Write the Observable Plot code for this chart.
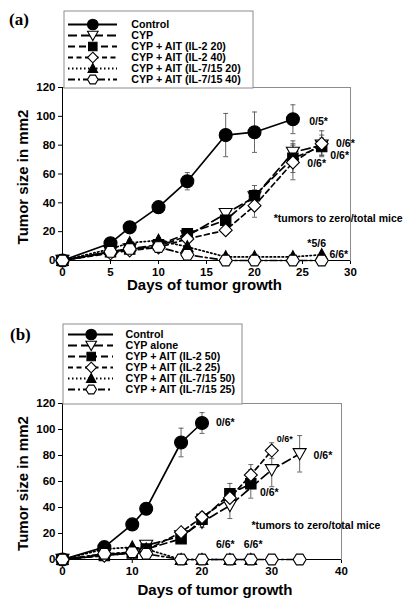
<!DOCTYPE html>
<html><head><meta charset="utf-8">
<script src="https://cdn.jsdelivr.net/npm/d3@7"></script>
<script src="https://cdn.jsdelivr.net/npm/@observablehq/plot@0.6"></script>
<style>
body{margin:0;background:#fff;}
#root{position:relative;width:410px;height:601px;overflow:hidden;font-family:"Liberation Sans",Arial,sans-serif;}
.abs{position:absolute;}
.tag{position:absolute;font-family:"Liberation Serif","DejaVu Serif",serif;font-weight:bold;font-size:17px;line-height:17px;}
</style></head><body><div id="root"></div>
<script>
// ---------- Panel (a) data ----------
const daysA = [0, 5, 7, 10, 13, 17, 20, 24, 27];
const namesA = ["Control", "CYP", "CYP + AIT (IL-2 20)", "CYP + AIT (IL-2 40)", "CYP + AIT (IL-7/15 20)", "CYP + AIT (IL-7/15 40)"];
const controlA = [0, 12, 23, 37, 55, 87, 89, 98, null];
const cypA = [0, 6, 8, 10, 17, 32.5, 44, 75, 80];
const il2_20A = [0, 6, 8, 11, 18.5, 28, 45, 71, 79];
const il2_40A = [0, 5, 7, 9, 15, 21, 38, 68, 81];
const il715_20A = [0, 8, 12.3, 13.9, 9.5, 2.5, 2.5, 2.5, 4];
const il715_40A = [0, 6, 8, 9.3, 4, 0, 0, 0, 0];
const controlErrA = [0, 1.5, 2, 3, 6, 15, 14, 10, null];
const cypErrA = [0, 1, 1, 1.5, 2, 3, 5, 8, 7];
const il2_20ErrA = [0, 1, 1, 1.5, 2, 3, 7, 10, 6];
const il2_40ErrA = [0, 1, 1, 1.5, 2, 3, 8, 12, 9];
const il715_20ErrA = [0, 1, 2, 2, 2, 0, 0, 0, 0];
const il715_40ErrA = [0, 1, 1, 1, 1, 0, 0, 0, 0];
const xTicksA = [0, 5, 10, 15, 20, 25, 30];
const notesA = ["0/5*", "0/6*", "0/6*", "0/6*", "*tumors to zero/total mice", "*5/6", "6/6*"];
const notesAx = [25.7, 28.5, 27.9, 25.5, 22.0, 25.5, 27.8];
const notesAy = [96.2, 81.2, 73, 67.3, 29, 12, 4.2];

// ---------- Panel (b) data ----------
const daysB = [0, 6, 10, 12, 17, 20, 24, 27, 30, 34];
const namesB = ["Control", "CYP alone", "CYP + AIT (IL-2 50)", "CYP + AIT (IL-2 25)", "CYP + AIT (IL-7/15 50)", "CYP + AIT (IL-7/15 25)"];
const controlB = [0, 9.5, 27, 39, 90, 105, null, null, null, null];
const cypB = [0, 4, 5, 10.8, 18, 28.7, 41.5, null, 69, 81.3];
const il2_50B = [0, 3, 5, 8, 16, 31, 50.5, 58.2, null, null];
const il2_25B = [0, 3, 5, 7, 21, 32.5, 47.4, 65, 83.8, null];
const il715_50B = [0, 8, 9.5, 8, 0, 0, 0, 0, null, null];
const il715_25B = [0, 4.4, 5.6, 4.4, 0, 0, 0, 0, 0, 0];
const controlErrB = [0, 1.5, 2, 3, 11, 8, null, null, null, null];
const cypErrB = [0, 1, 1, 1, 2, 4, 10, null, 13, 14];
const il2_50ErrB = [0, 1, 1, 1, 2, 4, 8, 11, null, null];
const il2_25ErrB = [0, 1, 1, 1, 2, 4, 6, 8, 6, null];
const il715_50ErrB = [0, 0, 0, 0, 0, 0, 0, 0, null, null];
const il715_25ErrB = [0, 0, 0, 0, 0, 0, 0, 0, 0, 0];
const xTicksB = [0, 10, 20, 30, 40];
const notesB = ["0/6*", "0/6*", "0/6*", "0/6*", "*tumors to zero/total mice", "6/6*", "6/6*"];
const notesBx = [22.0, 30.7, 36.0, 28.3, 27.1, 22.0, 26.0];
const notesBy = [105.6, 92.8, 80, 51.8, 26.2, 11.3, 11.3];
const notesBsize = [10.5, 9, 10.5, 10.5, 10.5, 10.5, 10.5];

const yTicks = [0, 20, 40, 60, 80, 100, 120];
const xTitle = "Days of tumor growth";
const yTitle = "Tumor size in mm2";

// ---------- symbols & styles ----------
const R = s => Math.sqrt(s / Math.PI);
const sym = {
  circle: {draw(c, s) { const r = R(s); c.moveTo(r, 0); c.arc(0, 0, r, 0, 2 * Math.PI); }},
  triDown: {draw(c, s) { const r = R(s); c.moveTo(-r, -r * 0.8); c.lineTo(r, -r * 0.8); c.lineTo(0, r * 0.95); c.closePath(); }},
  triUp: {draw(c, s) { const r = R(s); c.moveTo(-r * 0.9, r * 0.75); c.lineTo(r * 0.9, r * 0.75); c.lineTo(0, -r * 0.95); c.closePath(); }},
  square: {draw(c, s) { const r = R(s) * 0.8; c.rect(-r, -r, 2 * r, 2 * r); }},
  diamond: {draw(c, s) { const r = R(s); c.moveTo(0, -r); c.lineTo(r, 0); c.lineTo(0, r); c.lineTo(-r, 0); c.closePath(); }},
  hexagon: {draw(c, s) { const r = R(s), h = r * 0.82; c.moveTo(-r, 0); c.lineTo(-r / 2, -h); c.lineTo(r / 2, -h); c.lineTo(r, 0); c.lineTo(r / 2, h); c.lineTo(-r / 2, h); c.closePath(); }},
  cap: {draw(c, s) { const r = R(s); c.moveTo(-r, 0); c.lineTo(r, 0); }}
};
const styles = [
  {symbol: sym.circle, fill: "black", dash: null},
  {symbol: sym.triDown, fill: "white", dash: "9,4"},
  {symbol: sym.square, fill: "black", dash: "7,4"},
  {symbol: sym.diamond, fill: "white", dash: "5,3.5"},
  {symbol: sym.triUp, fill: "black", dash: "1.5,2.5"},
  {symbol: sym.hexagon, fill: "white", dash: "7,3,2,3"}
];
const FONT = '"Liberation Sans", Arial, Helvetica, sans-serif';

function rowsOf(days, vals, errs) {
  return days.map((d, j) => ({day: d, v: vals[j], e: errs[j]})).filter(r => r.v != null);
}

function drawPanel(cfg) {
  const marks = [
    Plot.frame({stroke: "#8c8c8c", strokeWidth: 1}),
    Plot.ruleX([0], {stroke: "#000", strokeWidth: 1}),
    Plot.ruleY([0], {stroke: "#000", strokeWidth: 1})
  ];
  const all = cfg.values.map((vals, i) => rowsOf(cfg.days, vals, cfg.errs[i]));
  all.forEach(rows => {
    const er = rows.filter(r => r.e > 0);
    marks.push(Plot.ruleX(er, {x: "day", y1: r => r.v - r.e, y2: r => r.v + r.e, stroke: "#555", strokeWidth: 0.9}));
    marks.push(Plot.dot(er, {x: "day", y: r => r.v + r.e, symbol: sym.cap, r: 2.5, stroke: "#555", strokeWidth: 0.9}));
    marks.push(Plot.dot(er, {x: "day", y: r => r.v - r.e, symbol: sym.cap, r: 2.5, stroke: "#555", strokeWidth: 0.9}));
  });
  all.forEach((rows, i) => {
    const st = styles[i];
    marks.push(Plot.line(rows, {x: "day", y: "v", stroke: "black", strokeWidth: 1.7, strokeDasharray: st.dash || undefined}));
  });
  all.forEach((rows, i) => {
    const st = styles[i];
    marks.push(Plot.dot(rows, {x: "day", y: "v", symbol: st.symbol, r: 6.5, fill: st.fill, stroke: "black", strokeWidth: 1.1}));
  });
  const notes = cfg.notes.map((t, k) => ({t, x: cfg.notesX[k], y: cfg.notesY[k], s: cfg.notesSize ? cfg.notesSize[k] : 10.5}));
  [...new Set(notes.map(n => n.s))].forEach(size => {
    marks.push(Plot.text(notes.filter(n => n.s === size), {x: "x", y: "y", text: "t", textAnchor: "start", lineAnchor: "middle", fontSize: size, fontWeight: "bold", fill: "black"}));
  });
  marks.push(Plot.text([xTitle], {frameAnchor: "bottom", lineAnchor: "middle", textAnchor: "middle", dy: cfg.xLabelDy, dx: cfg.xLabelDx, fontSize: 15, fontWeight: "bold", fill: "black"}));
  marks.push(Plot.text([yTitle], {frameAnchor: "left", lineAnchor: "middle", textAnchor: "middle", dx: -39, dy: cfg.yLabelDy, rotate: -90, fontSize: 15, fontWeight: "bold", fill: "black"}));
  return Plot.plot({
    width: 410, height: cfg.height,
    marginTop: cfg.mt, marginRight: cfg.mr, marginBottom: cfg.mb, marginLeft: cfg.ml,
    x: {domain: cfg.xDomain, ticks: cfg.xTicks, tickSize: 4, tickPadding: 3, label: null},
    y: {domain: [0, 120], ticks: yTicks, tickSize: 4, tickPadding: 3, label: null},
    style: {fontFamily: FONT, fontSize: "11.5px", fontWeight: "bold", color: "black", background: "transparent", overflow: "visible"},
    marks
  });
}

function drawLegend(names, cfg) {
  const marks = [Plot.frame({fill: "white", stroke: "#8c8c8c", strokeWidth: 1, inset: 0.5})];
  names.forEach((n, i) => {
    const st = styles[i];
    marks.push(Plot.ruleY([n], {y: d => d, x1: () => cfg.l1, x2: () => cfg.l2, stroke: "black", strokeWidth: 1.8, strokeDasharray: st.dash || undefined}));
    marks.push(Plot.dot([n], {y: d => d, x: () => cfg.sx, symbol: st.symbol, r: 5.3, fill: st.fill, stroke: "black", strokeWidth: 1.1}));
  });
  marks.push(Plot.text(names, {y: d => d, x: () => cfg.tx, text: d => d, textAnchor: "start", lineAnchor: "middle", fontSize: 10.7, fontWeight: "bold", fill: "black"}));
  return Plot.plot({
    width: cfg.w, height: cfg.h, margin: 0,
    x: {domain: [0, cfg.w], range: [0, cfg.w], axis: null},
    y: {type: "point", domain: names, range: [cfg.first, cfg.last], padding: 0, axis: null},
    style: {fontFamily: FONT, background: "transparent", overflow: "visible"},
    marks
  });
}

const root = document.getElementById("root");
function place(el, left, top) { el.classList.add("abs"); el.style.left = left + "px"; el.style.top = top + "px"; root.appendChild(el); }

const pA = drawPanel({
  days: daysA, values: [controlA, cypA, il2_20A, il2_40A, il715_20A, il715_40A],
  errs: [controlErrA, cypErrA, il2_20ErrA, il2_40ErrA, il715_20ErrA, il715_40ErrA],
  xDomain: [0, 30], xTicks: xTicksA, height: 300, mt: 87, mr: 60, mb: 40, ml: 62,
  notes: notesA, notesX: notesAx, notesY: notesAy, xLabelDy: 25, xLabelDx: -2, yLabelDy: 3
});
place(pA, 0, 0);

const pB = drawPanel({
  days: daysB, values: [controlB, cypB, il2_50B, il2_25B, il715_50B, il715_25B],
  errs: [controlErrB, cypErrB, il2_50ErrB, il2_25ErrB, il715_50ErrB, il715_25ErrB],
  xDomain: [0, 40], xTicks: xTicksB, height: 301, mt: 103, mr: 69, mb: 42, ml: 62,
  notes: notesB, notesX: notesBx, notesY: notesBy, notesSize: notesBsize, xLabelDy: 31, xLabelDx: 13, yLabelDy: 2
});
place(pB, 0, 300);

place(drawLegend(namesA, {w: 190, h: 78, l1: 5, l2: 54, sx: 29.3, tx: 67.7, first: 12, last: 70}), 63, 10);
place(drawLegend(namesB, {w: 180, h: 81, l1: 6, l2: 51, sx: 28.7, tx: 63, first: 9.7, last: 68}), 62, 323);

const tagA = document.createElement("div"); tagA.className = "tag"; tagA.textContent = "(a)"; tagA.style.left = "9px"; tagA.style.top = "11px"; root.appendChild(tagA);
const tagB = document.createElement("div"); tagB.className = "tag"; tagB.textContent = "(b)"; tagB.style.left = "10px"; tagB.style.top = "326px"; root.appendChild(tagB);
</script></body></html>
